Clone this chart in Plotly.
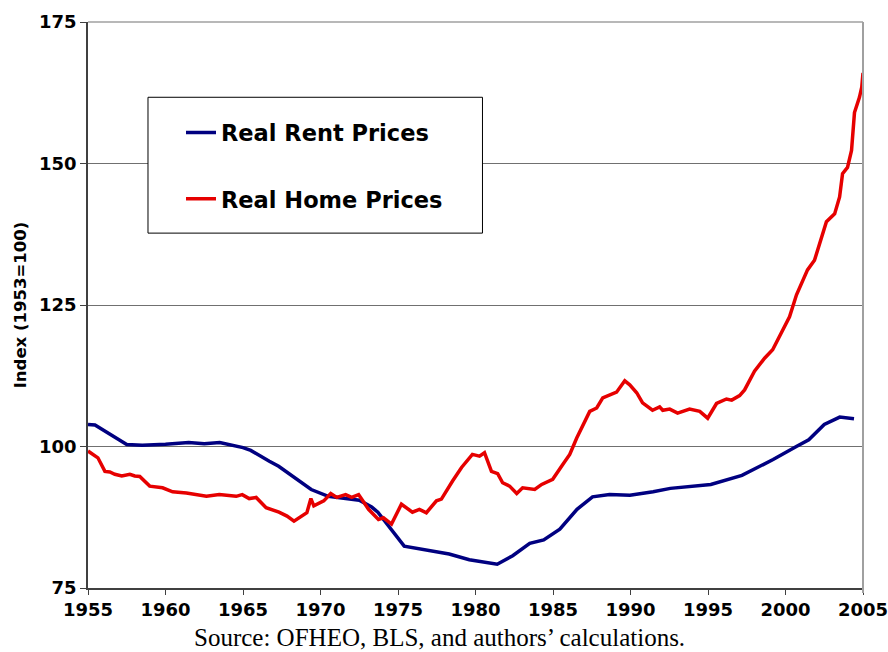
import plotly.graph_objects as go

# Real Rent Prices (year, index)
rent_years = [1955.0, 1955.45, 1957.5, 1958.5, 1960.0, 1961.5, 1962.5, 1963.5, 1965.0, 1965.5,
              1966.7, 1967.3, 1969.4, 1970.5, 1972.5, 1973.3, 1973.7, 1975.4, 1978.3, 1979.6,
              1981.4, 1982.4, 1983.5, 1984.4, 1985.44, 1986.55, 1987.55, 1988.65, 1989.96, 1991.46,
              1992.57, 1995.18, 1997.19, 1999.2, 2000.7, 2001.5, 2002.5, 2003.5, 2004.42]
rent_values = [103.9, 103.8, 100.35, 100.2, 100.4, 100.7, 100.5, 100.7, 99.8, 99.3,
               97.4, 96.5, 92.4, 91.2, 90.5, 89.3, 88.4, 82.4, 81.0, 80.0,
               79.2, 80.7, 82.9, 83.5, 85.4, 88.9, 91.1, 91.5, 91.4, 92.0,
               92.6, 93.3, 94.9, 97.7, 100.0, 101.2, 103.9, 105.2, 104.9]

# Real Home Prices (year, index)
home_years = [1955.00, 1955.45, 1955.64, 1956.09, 1956.41, 1956.73, 1957.18, 1957.70, 1958.02, 1958.34,
              1958.98, 1959.81, 1960.46, 1961.35, 1962.64, 1963.47, 1964.56, 1964.95, 1965.40, 1965.85,
              1966.49, 1967.32, 1967.84, 1968.29, 1968.74, 1969.12, 1969.38, 1969.57, 1970.21, 1970.66,
              1971.05, 1971.62, 1972.01, 1972.46, 1973.10, 1973.74, 1974.06, 1974.58, 1975.22, 1975.93,
              1976.38, 1976.83, 1977.48, 1977.80, 1978.52, 1979.10, 1979.80, 1980.26, 1980.58, 1981.03,
              1981.43, 1981.75, 1982.20, 1982.66, 1983.04, 1983.82, 1984.27, 1984.98, 1985.63, 1986.08,
              1986.53, 1987.37, 1987.82, 1988.21, 1989.10, 1989.63, 1989.95, 1990.40, 1990.78, 1991.42,
              1991.88, 1992.08, 1992.53, 1993.04, 1993.81, 1994.47, 1994.98, 1995.55, 1996.19, 1996.53,
              1997.04, 1997.36, 1998.00, 1998.65, 1999.17, 1999.74, 2000.26, 2000.71, 2001.04, 2001.42,
              2001.87, 2002.32, 2002.64, 2003.17, 2003.49, 2003.68, 2004.00, 2004.26, 2004.45, 2004.77,
              2004.92, 2005.00]
home_values = [99.2, 98.4, 98.0, 95.6, 95.5, 95.1, 94.8, 95.1, 94.8, 94.7,
               93.0, 92.7, 92.0, 91.8, 91.2, 91.5, 91.2, 91.5, 90.8, 91.0,
               89.2, 88.4, 87.7, 86.8, 87.6, 88.3, 90.8, 89.5, 90.4, 91.7,
               91.0, 91.5, 91.0, 91.5, 88.9, 87.1, 87.4, 86.3, 89.8, 88.4,
               88.9, 88.3, 90.4, 90.7, 93.9, 96.3, 98.6, 98.3, 98.9, 95.6,
               95.2, 93.6, 93.0, 91.7, 92.7, 92.4, 93.3, 94.2, 96.8, 98.6,
               101.5, 106.2, 106.8, 108.6, 109.6, 111.6, 110.9, 109.5, 107.7, 106.4,
               107.0, 106.4, 106.6, 105.9, 106.6, 106.2, 105.0, 107.6, 108.4, 108.2,
               109.0, 110.0, 113.3, 115.6, 117.1, 120.0, 122.9, 126.8, 128.8, 131.2,
               132.9, 137.0, 139.7, 141.1, 144.1, 148.2, 149.3, 152.3, 159.0, 161.7,
               163.5, 166.0]

x_ticks = [1955, 1960, 1965, 1970, 1975, 1980, 1985, 1990, 1995, 2000, 2005]
y_ticks = [75, 100, 125, 150, 175]

BOLD = dict(family="DejaVu Sans", weight="bold", color="black")

fig = go.Figure()
fig.add_trace(go.Scatter(x=rent_years, y=rent_values, mode="lines", name="Real Rent Prices",
                         line=dict(color="#000080", width=3.5), legendgroup="a"))
fig.add_trace(go.Scatter(x=home_years, y=home_values, mode="lines", name="Real Home Prices",
                         line=dict(color="#e60000", width=3.5), legendgroup="b"))

fig.update_layout(
    width=888, height=652,
    margin=dict(l=88, r=24.5, t=21.5, b=63.5, autoexpand=False),
    paper_bgcolor="white", plot_bgcolor="white",
    showlegend=True,
    legend=dict(x=0.120, y=0.842, xanchor="left", yanchor="top",
                bgcolor="rgba(0,0,0,0)", borderwidth=0,
                font=dict(size=22.5, **BOLD), tracegroupgap=34, itemwidth=30),
    xaxis=dict(range=[1955, 2005], tickvals=x_ticks, showgrid=False, automargin=False,
               showline=True, linecolor="#404040", linewidth=1.5,
               ticks="outside", ticklen=5, tickcolor="#404040",
               ticklabeloverflow="allow",
               tickfont=dict(size=18, **BOLD), zeroline=False),
    yaxis=dict(range=[75, 175], tickvals=y_ticks, showgrid=True, automargin=False,
               gridcolor="#707070", gridwidth=1,
               showline=True, linecolor="#404040", linewidth=1.5,
               ticks="outside", ticklen=6, tickcolor="#404040",
               tickfont=dict(size=18, **BOLD), zeroline=False,
               title=dict(text="Index (1953=100)", font=dict(size=16.5, **BOLD), standoff=8)),
    shapes=[
        dict(type="line", xref="paper", yref="paper", x0=0, x1=1, y0=1, y1=1,
             line=dict(color="#a0a0a0", width=1.5)),
        dict(type="line", xref="paper", yref="paper", x0=1, x1=1, y0=-0.009, y1=1,
             line=dict(color="#a0a0a0", width=2)),
        dict(type="rect", xref="paper", yref="paper", x0=0.0774, x1=0.509, y0=0.627, y1=0.867,
             fillcolor="white", line=dict(color="black", width=1), layer="above"),
    ],
    annotations=[
        dict(text="Source: OFHEO, BLS, and authors\u2019 calculations.", xref="paper", yref="paper",
             x=0.454, y=-0.087, xanchor="center", yanchor="middle", showarrow=False,
             font=dict(family="Liberation Serif", size=25, color="black")),
    ],
)

fig.write_html("out.html", config={"displayModeBar": False},
               post_script="document.body.style.margin='0px';document.body.style.overflow='hidden';")
